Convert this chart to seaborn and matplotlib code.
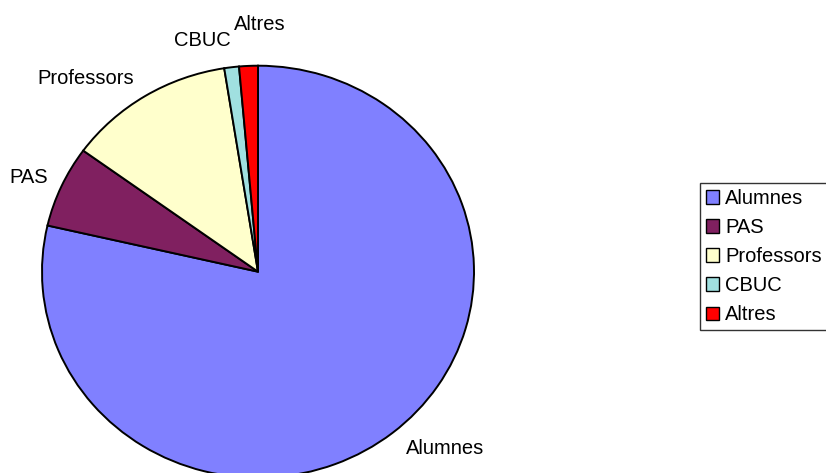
import numpy as np
import seaborn as sns
import matplotlib.pyplot as plt

# share of users per group (percent)
groups = ['Alumnes', 'PAS', 'Professors', 'CBUC', 'Altres']
shares = [78.6, 6.4, 12.5, 1.1, 1.4]
colors = ['#8080FF', '#802060', '#FFFFCC', '#A0E0E0', '#FF0000']

sns.set_style('white')
plt.rcParams['font.family'] = ['Liberation Sans', 'DejaVu Sans']
plt.rcParams['text.color'] = 'black'

W, H = 826, 473
fig = plt.figure(figsize=(W / 100, H / 100), dpi=100)

# pie centre and radii in pixels (slightly wider than tall, like the original)
cx, cy, rx, ry = 258, 271.7, 216, 206
ax = fig.add_axes([(cx - rx) / W, (H - cy - ry) / H, 2 * rx / W, 2 * ry / H])

wedges, texts = ax.pie(shares, labels=groups, colors=colors, startangle=90,
                       counterclock=False, labeldistance=1.1,
                       wedgeprops=dict(edgecolor='black', linewidth=1.4),
                       textprops=dict(fontsize=14.5, color='black'))
ax.set_aspect('auto')
ax.set_xlim(-1, 1)
ax.set_ylim(-1, 1)
ax.axis('off')

# small slices at the top: nudge labels apart like the original
x, y = texts[1].get_position()
texts[1].set_position((x + 0.03, y))
x, y = texts[3].get_position()
texts[3].set_position((x + 0.01, y + 0.03))
x, y = texts[4].get_position()
texts[4].set_ha('left')
texts[4].set_position((-0.11, y + 0.1))

leg = fig.legend(wedges, groups, loc='upper left',
                 bbox_to_anchor=(700 / W, 1 - 183 / H), fontsize=14.5,
                 frameon=True, fancybox=False, handlelength=0.65,
                 handleheight=0.65, handletextpad=0.3, labelspacing=0.5,
                 borderpad=0.3, borderaxespad=0)
leg.get_frame().set_edgecolor('black')
leg.get_frame().set_linewidth(1.0)
for h in leg.legend_handles:
    h.set_linewidth(1.0)
for t in leg.get_texts():
    t.set_color('black')

fig.savefig('out.png', dpi=100)
